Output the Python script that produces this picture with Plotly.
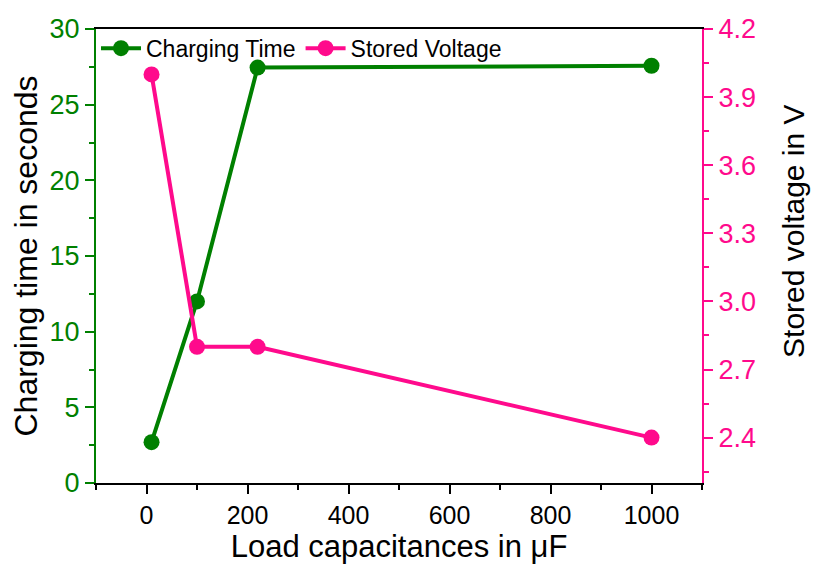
import plotly.graph_objects as go

capacitance = [10, 100, 220, 1000]
charging_time = [2.7, 12.0, 27.45, 27.57]
stored_voltage = [4.0, 2.8, 2.8, 2.4]

GREEN = "#008000"
PINK = "#FF0A8C"
FONT = "Liberation Sans, Arial, sans-serif"

fig = go.Figure()
fig.add_trace(go.Scatter(
    x=capacitance, y=charging_time, name="Charging Time",
    mode="lines+markers",
    line=dict(color=GREEN, width=4),
    marker=dict(color=GREEN, size=16, symbol="circle"),
    yaxis="y"))
fig.add_trace(go.Scatter(
    x=capacitance, y=stored_voltage, name="Stored Voltage",
    mode="lines+markers",
    line=dict(color=PINK, width=4),
    marker=dict(color=PINK, size=16, symbol="circle"),
    yaxis="y2"))

fig.update_layout(
    width=813, height=571,
    margin=dict(l=96, r=111, t=29, b=88),
    paper_bgcolor="white", plot_bgcolor="white",
    font=dict(family=FONT, color="black"),
    showlegend=True,
    legend=dict(x=0.0, y=1.005, xanchor="left", yanchor="top",
                orientation="h", bgcolor="rgba(0,0,0,0)",
                font=dict(size=23, family=FONT, color="black"),
                itemwidth=40, tracegroupgap=0),
    xaxis=dict(
        range=[-100, 1100], tickvals=[0, 200, 400, 600, 800, 1000],
        showgrid=False, zeroline=False,
        showline=True, linecolor="black", linewidth=2, mirror=True,
        ticks="outside", ticklen=9, tickwidth=2, tickcolor="black",
        minor=dict(dtick=100, tick0=0, ticks="outside", ticklen=5, tickwidth=2, tickcolor="black"),
        tickfont=dict(size=25, family=FONT, color="black"),
        title=dict(text="Load capacitances in μF", font=dict(size=31, family=FONT, color="black"), standoff=4),
    ),
    yaxis=dict(
        range=[0, 30], tickvals=[0, 5, 10, 15, 20, 25, 30],
        showgrid=False, zeroline=False,
        showline=True, linecolor=GREEN, linewidth=2,
        ticks="outside", ticklen=9, tickwidth=2, tickcolor=GREEN,
        minor=dict(dtick=2.5, tick0=0, ticks="outside", ticklen=5, tickwidth=2, tickcolor=GREEN),
        tickfont=dict(size=27, family=FONT, color=GREEN),
        title=dict(text="Charging time in seconds", font=dict(size=32, family=FONT, color="black"), standoff=2),
    ),
    yaxis2=dict(
        range=[2.2, 4.2], tickvals=[2.4, 2.7, 3.0, 3.3, 3.6, 3.9, 4.2],
        ticktext=["2.4", "2.7", "3.0", "3.3", "3.6", "3.9", "4.2"],
        overlaying="y", side="right",
        showgrid=False, zeroline=False,
        showline=True, linecolor=PINK, linewidth=2,
        ticks="outside", ticklen=9, tickwidth=2, tickcolor=PINK,
        minor=dict(dtick=0.15, tick0=2.25, ticks="outside", ticklen=5, tickwidth=2, tickcolor=PINK),
        tickfont=dict(size=27, family=FONT, color=PINK),
    ),
    annotations=[dict(
        text="Stored voltage in V", textangle=-90, showarrow=False,
        xref="paper", yref="paper", x=1.150, y=0.555,
        xanchor="center", yanchor="middle", borderpad=0,
        font=dict(size=30, family=FONT, color="black"))],
)

fig.write_html("out.html")
